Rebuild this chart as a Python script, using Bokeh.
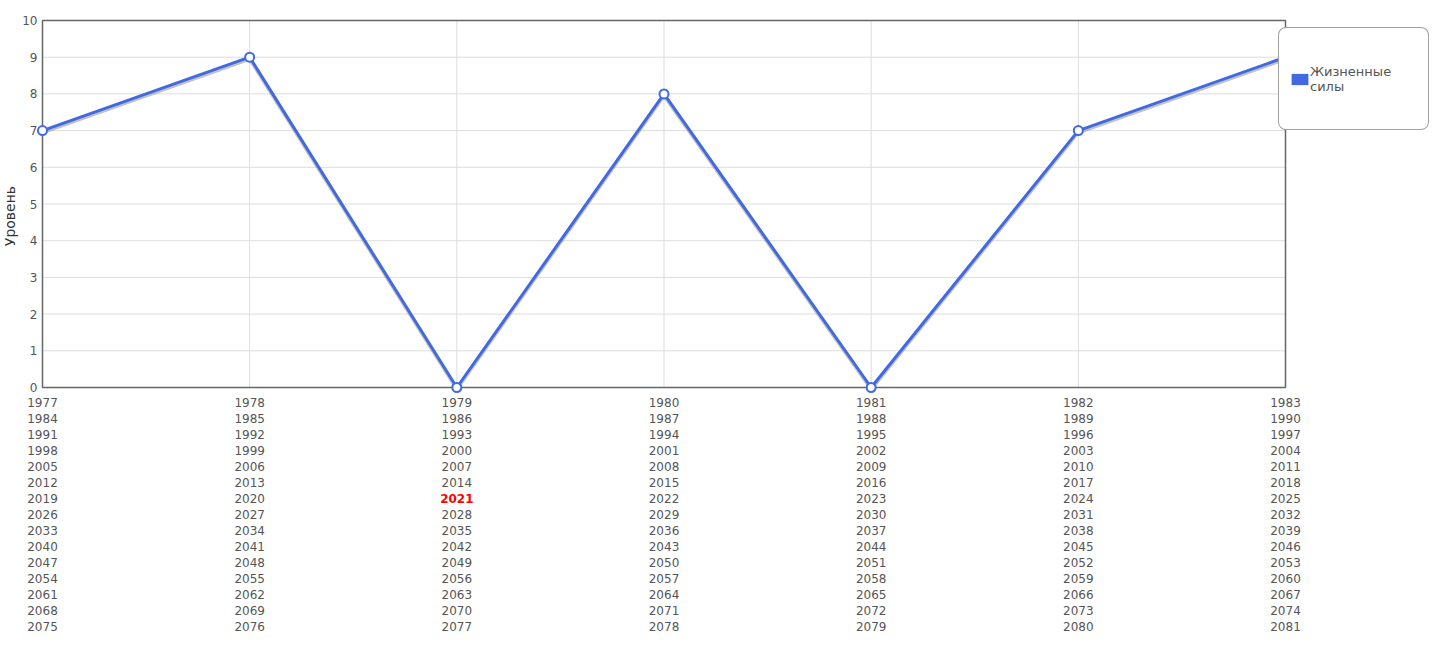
import math
from bokeh.plotting import figure
from bokeh.models import ColumnDataSource, Legend, LegendItem, Range1d
from bokeh.core.properties import value
from bokeh.transform import dodge
from bokeh.embed import file_html
from bokeh.resources import INLINE

# ---------------- data ----------------
series_name = "Жизненные\nсилы"
y_axis_title = "Уровень"
categories = [0, 1, 2, 3, 4, 5, 6]
values = [7, 9, 0, 8, 0, 7, 9]
y_ticks = [0, 1, 2, 3, 4, 5, 6, 7, 8, 9, 10]
highlight_year = "2021"
year_rows = [
    ["1977", "1978", "1979", "1980", "1981", "1982", "1983"],
    ["1984", "1985", "1986", "1987", "1988", "1989", "1990"],
    ["1991", "1992", "1993", "1994", "1995", "1996", "1997"],
    ["1998", "1999", "2000", "2001", "2002", "2003", "2004"],
    ["2005", "2006", "2007", "2008", "2009", "2010", "2011"],
    ["2012", "2013", "2014", "2015", "2016", "2017", "2018"],
    ["2019", "2020", "2021", "2022", "2023", "2024", "2025"],
    ["2026", "2027", "2028", "2029", "2030", "2031", "2032"],
    ["2033", "2034", "2035", "2036", "2037", "2038", "2039"],
    ["2040", "2041", "2042", "2043", "2044", "2045", "2046"],
    ["2047", "2048", "2049", "2050", "2051", "2052", "2053"],
    ["2054", "2055", "2056", "2057", "2058", "2059", "2060"],
    ["2061", "2062", "2063", "2064", "2065", "2066", "2067"],
    ["2068", "2069", "2070", "2071", "2072", "2073", "2074"],
    ["2075", "2076", "2077", "2078", "2079", "2080", "2081"],
]

FONT = "DejaVu Sans"
BLUE = "#4169E1"
GRAY_TXT = "#555555"
BOX = "#666666"
GRID = "#dddddd"

# ---------------- pixel layout (canvas = frame) ----------------
W, H = 1430, 640
PX_LEFT, PX_RIGHT = 42, 1285      # plot box horizontal edges
PX_TOP, PX_BOTTOM = 20, 387       # plot box vertical edges
ppu_x = (PX_RIGHT - PX_LEFT) / (categories[-1] - categories[0])
ppu_y = (PX_BOTTOM - PX_TOP) / (y_ticks[-1] - y_ticks[0])
x_range = Range1d(categories[0] - PX_LEFT / ppu_x, categories[-1] + (W - PX_RIGHT) / ppu_x)
y_range = Range1d(y_ticks[0] - (H - PX_BOTTOM) / ppu_y, y_ticks[-1] + PX_TOP / ppu_y)

p = figure(width=W, height=H, output_backend="svg", toolbar_location=None,
           x_range=x_range, y_range=y_range, min_border=0)
p.axis.visible = False
p.grid.visible = False
p.outline_line_color = None
p.background_fill_color = "white"
p.border_fill_color = "white"

n_x, n_y = len(categories), len(y_ticks)
# grid lines
p.segment(x0=categories, x1=categories, y0=[y_ticks[0]] * n_x, y1=[y_ticks[-1]] * n_x,
          line_color=GRID, line_width=1)
p.segment(x0=[categories[0]] * n_y, x1=[categories[-1]] * n_y, y0=y_ticks, y1=y_ticks,
          line_color=GRID, line_width=1)
# plot box
p.quad(left=[categories[0]], right=[categories[-1]], bottom=[y_ticks[0]], top=[y_ticks[-1]],
       fill_color=None, line_color=BOX, line_width=1.5)

# y tick labels
p.text(x=[categories[0]] * n_y, y=y_ticks, text=[str(t) for t in y_ticks], x_offset=-5,
       text_align="right", text_baseline="middle", text_font=value(FONT),
       text_font_size=value("12px"), text_color=GRAY_TXT)
# y axis title
p.text(x=[categories[0]], y=[(y_ticks[0] + y_ticks[-1]) / 2], text=[y_axis_title],
       x_offset=-33, y_offset=12, angle=math.pi / 2, text_align="center",
       text_baseline="middle", text_font=value(FONT), text_font_size=value("14px"),
       text_color="#333333")

# series
src = ColumnDataSource(dict(x=categories, y=values))
p.line(x="x", y=dodge("y", -0.06, range=p.y_range), source=src,
       line_color="#999999", line_width=3, line_alpha=0.6)
p.line(x="x", y="y", source=src, line_color=BLUE, line_width=3)
p.scatter(x="x", y="y", source=src, marker="circle", size=9, fill_color="white",
          line_color=BLUE, line_width=2)

# multi-line year labels under each category
lx, ly, loff, ltext, lcol, lstyle = [], [], [], [], [], []
for j, row in enumerate(year_rows):
    for i, yr in enumerate(row):
        lx.append(categories[i])
        ly.append(y_ticks[0])
        loff.append(15 + 16 * j)
        ltext.append(yr)
        hl = yr == highlight_year
        lcol.append("#ff0000" if hl else GRAY_TXT)
        lstyle.append("bold" if hl else "normal")
lab_src = ColumnDataSource(dict(x=lx, y=ly, yo=loff, text=ltext, color=lcol, style=lstyle))
p.text(x="x", y="y", y_offset="yo", text="text", source=lab_src, text_color="color",
       text_font_style="style", text_font=value(FONT), text_font_size=value("12px"),
       text_align="center", text_baseline="middle")

# legend (square icon from a hidden bar-like renderer)
icon = p.rect(x="x", y="y", width=0.1, height=0.1, source=src, fill_color=BLUE,
              line_color=None, visible=False)
leg_kwargs = dict(items=[LegendItem(label=series_name, renderers=[icon])],
                  location=(1278, H - 130), orientation="vertical", padding=10, margin=0,
                  spacing=0, glyph_width=21, glyph_height=14, label_standoff=0,
                  label_width=108, label_height=81, label_text_font=FONT,
                  label_text_font_size="13px", label_text_color=GRAY_TXT,
                  border_line_color="#444444", border_line_width=1,
                  background_fill_color="white", background_fill_alpha=1.0)
if "border_radius" in Legend.properties():
    leg_kwargs["border_radius"] = 8
p.add_layout(Legend(**leg_kwargs))

open("out.html", "w").write(file_html(p, INLINE))
